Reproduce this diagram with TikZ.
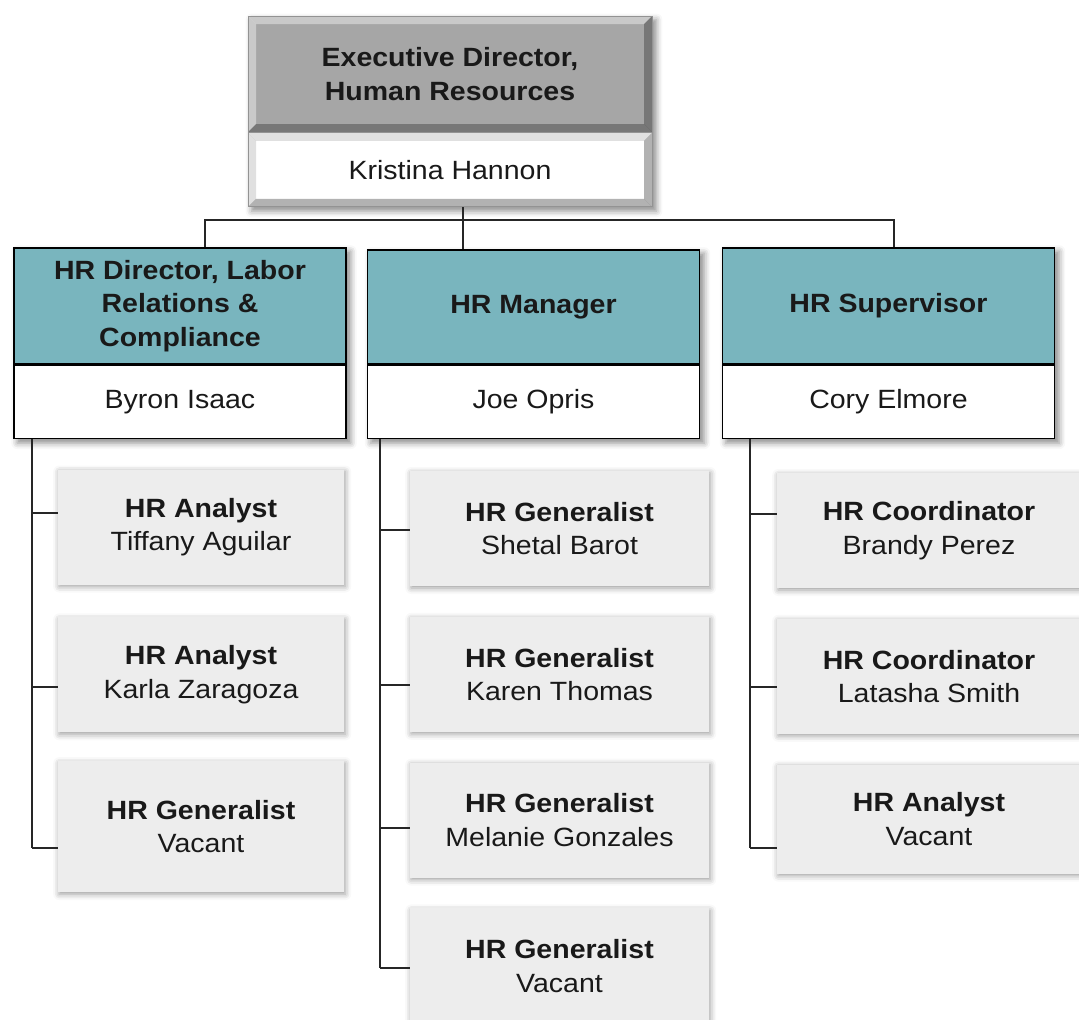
\documentclass[tikz,border=0pt]{standalone}
\usepackage{fontspec}
\setmainfont{Liberation Sans}[FakeStretch=1.08]
\usetikzlibrary{positioning, shadows.blur, fit, backgrounds}

\definecolor{execgray}{RGB}{166,166,166}
\definecolor{hrteal}{RGB}{121,181,190}
\definecolor{staffgray}{RGB}{237,237,237}
\definecolor{linegray}{RGB}{38,38,38}

\tikzset{
  % raised edge: light on top and left, dark on right and bottom
  bevel/.style 2 args={path picture={
    \fill[#1] (path picture bounding box.north west) -- (path picture bounding box.north east)
      -- ([shift={(-4pt,-4pt)}]path picture bounding box.north east)
      -- ([shift={(4pt,-4pt)}]path picture bounding box.north west) -- cycle;
    \fill[#1] (path picture bounding box.north west) -- ([shift={(4pt,-4pt)}]path picture bounding box.north west)
      -- ([shift={(4pt,4pt)}]path picture bounding box.south west) -- (path picture bounding box.south west) -- cycle;
    \fill[#2] (path picture bounding box.north east) -- (path picture bounding box.south east)
      -- ([shift={(-4pt,4pt)}]path picture bounding box.south east)
      -- ([shift={(-4pt,-4pt)}]path picture bounding box.north east) -- cycle;
    \fill[#2] (path picture bounding box.south west) -- (path picture bounding box.south east)
      -- ([shift={(-4pt,4pt)}]path picture bounding box.south east)
      -- ([shift={(4pt,4pt)}]path picture bounding box.south west) -- cycle;
  }}
}

\begin{document}
\begin{tikzpicture}[x=0.5pt, y=-0.5pt,
    every node/.style={inner sep=0pt, align=center, text=black!90,
      font=\fontsize{13.2}{16.75}\selectfont},
    exectitle/.style={fill=execgray, draw=gray!85, minimum width=202pt, minimum height=58pt,
      font=\fontsize{13.2}{16.75}\selectfont\bfseries, bevel={white,opacity=.4}{black,opacity=.28}},
    execname/.style={fill=white, draw=gray!85, minimum width=202pt, minimum height=37pt,
      bevel={black,opacity=.12}{black,opacity=.3}},
    mgrtitle/.style={fill=hrteal, draw=black, line width=0.7pt, minimum width=166pt, minimum height=58pt,
      font=\fontsize{13.2}{16.75}\selectfont\bfseries},
    mgrname/.style={fill=white, draw=black, line width=0.7pt, minimum width=166pt, minimum height=36.5pt},
    staff/.style={fill=staffgray, minimum height=57.5pt,
      blur shadow={shadow xshift=0.6pt, shadow yshift=-1pt, shadow blur radius=3pt, shadow opacity=40}},
    lcol/.style={staff, minimum width=143pt},
    mcol/.style={staff, minimum width=149.5pt},
    rcol/.style={staff, minimum width=152pt},
    boxshadow/.style={inner sep=0pt, blur shadow={shadow xshift=2pt, shadow yshift=-2pt,
      shadow blur radius=3pt, shadow opacity=45}},
    conn/.style={draw=linegray, line width=0.75pt},
    node distance=15pt]

  \useasboundingbox (0,0) rectangle (1079,1019);

  % Executive director
  \node (execdir) [exectitle] at (450,74) {Executive Director,\\Human Resources};
  \node (khannon) [execname, below=0pt of execdir] {Kristina Hannon};

  % Second level
  \node (labordir) [mgrtitle] at (180,306) {HR Director, Labor\\Relations \&\\Compliance};
  \node (byron) [mgrname, below=0pt of labordir] {Byron Isaac};
  \node (hrmgr) [mgrtitle, minimum height=57pt] at (533.5,307) {HR Manager};
  \node (joe) [mgrname, below=0pt of hrmgr] {Joe Opris};
  \node (hrsup) [mgrtitle] at (888.5,306) {HR Supervisor};
  \node (cory) [mgrname, below=0pt of hrsup] {Cory Elmore};

  % Staff under labor relations
  \node (la1) [lcol] at (201,527) {\textbf{HR Analyst}\\Tiffany Aguilar};
  \node (la2) [lcol, below=16pt of la1] {\textbf{HR Analyst}\\Karla Zaragoza};
  \node (la3) [lcol, minimum height=65.5pt, below=14pt of la2] {\textbf{HR Generalist}\\Vacant};

  % Staff under HR manager
  \node (ma1) [mcol] at (559.5,528.5) {\textbf{HR Generalist}\\Shetal Barot};
  \node (ma2) [mcol, below=of ma1] {\textbf{HR Generalist}\\Karen Thomas};
  \node (ma3) [mcol, below=of ma2] {\textbf{HR Generalist}\\Melanie Gonzales};
  \node (ma4) [mcol, below=of ma3] {\textbf{HR Generalist}\\Vacant};

  % Staff under HR supervisor
  \node (ra1) [rcol] at (929,530.5) {\textbf{HR Coordinator}\\Brandy Perez};
  \node (ra2) [rcol, below=of ra1] {\textbf{HR Coordinator}\\Latasha Smith};
  \node (ra3) [rcol, minimum height=54.5pt, below=of ra2] {\textbf{HR Analyst}\\Vacant};

  % drop shadows behind the two-part boxes
  \begin{scope}[on background layer]
    \node (execshadow) [boxshadow, fit=(execdir)(khannon)] {};
    \node (laborshadow) [boxshadow, fit=(labordir)(byron)] {};
    \node (mgrshadow) [boxshadow, fit=(hrmgr)(joe)] {};
    \node (supshadow) [boxshadow, fit=(hrsup)(cory)] {};
  \end{scope}

  % Top connectors
  \coordinate (hub) at (463,220);
  \coordinate (ldrop) at (205,220);
  \coordinate (rdrop) at (894,220);
  \draw[conn] (khannon.south -| hub) -- (hub) -- (hrmgr.north -| hub);
  \draw[conn] (labordir.north -| ldrop) -- (ldrop) -- (rdrop) -- (hrsup.north -| rdrop);

  % Staff connectors
  \coordinate (lt1) at (32,513);
  \coordinate (lt2) at (32,687);
  \coordinate (lt3) at (32,848);
  \coordinate (mt1) at (380,530);
  \coordinate (mt2) at (380,685);
  \coordinate (mt3) at (380,828);
  \coordinate (mt4) at (380,968);
  \coordinate (rt1) at (750,514);
  \coordinate (rt2) at (750,687);
  \coordinate (rt3) at (750,848);

  \draw[conn] (byron.south -| lt3) -- (lt3);
  \draw[conn] (joe.south -| mt4) -- (mt4);
  \draw[conn] (cory.south -| rt3) -- (rt3);
  \foreach \i in {1,2,3} {
    \draw[conn] (lt\i) -- (lt\i -| la\i.west);
    \draw[conn] (rt\i) -- (rt\i -| ra\i.west);
  }
  \foreach \i in {1,...,4}
    \draw[conn] (mt\i) -- (mt\i -| ma\i.west);
\end{tikzpicture}
\end{document}
